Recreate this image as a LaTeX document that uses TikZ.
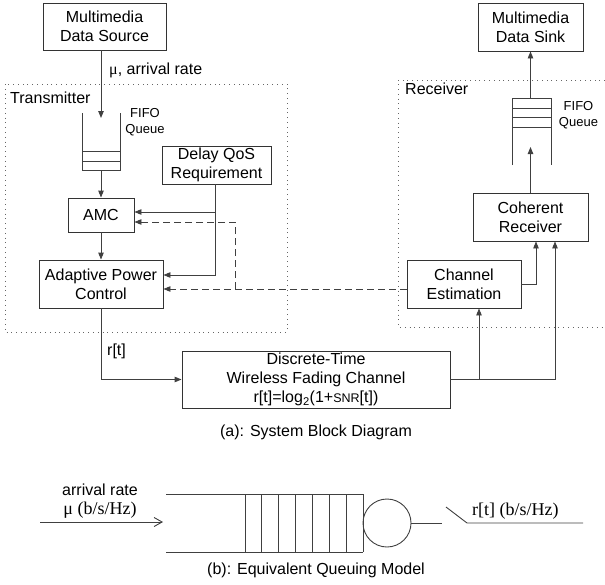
\documentclass[tikz,border=0pt]{standalone}
\usepackage{fontspec}
\setmainfont{Liberation Sans}
\newfontfamily\seriffont{Liberation Serif}
\usetikzlibrary{arrows.meta}
\begin{document}
\begin{tikzpicture}[x=1pt,y=-1pt,
  ln/.style={draw=black!75, line width=0.9pt},
  arr/.style={ln, -{Triangle[length=7pt,width=5.5pt]}},
  box/.style={draw=black!80, line width=0.9pt, inner sep=0pt, align=center, font=\fontsize{16}{19}\selectfont},
  lbl/.style={inner sep=0pt, font=\fontsize{16}{19}\selectfont},
  serlbl/.style={inner sep=0pt, font=\seriffont\fontsize{18}{20}\selectfont},
  small/.style={inner sep=0pt, align=center, font=\fontsize{13}{15.5}\selectfont},
  dots/.style={draw=black!60, line width=0.6pt, dash pattern=on 0.8pt off 4pt},
  dsh/.style={arr, dash pattern=on 7pt off 4pt}]
\useasboundingbox (0,0) rectangle (605,584);

% dotted regions
\draw[dots] (5,84) rectangle (287,332);
\draw[dots] (605,80) -- (398,80) -- (398,327) -- (605,327);
\node[lbl, anchor=west] (tx) at (10,98) {Transmitter};
\node[lbl, anchor=west] (rx) at (405,89) {Receiver};

% blocks
\node[box, minimum width=123pt, minimum height=47pt] (src) at (104.5,26.5) {Multimedia\\Data Source};
\node[box, minimum width=105pt, minimum height=48pt] (sink) at (530.5,27) {Multimedia\\Data Sink};
\node[box, minimum width=109pt, minimum height=38pt] (qos) at (216.5,165) {Delay QoS\\Requirement};
\node[box, minimum width=66pt, minimum height=34pt] (amc) at (101,215) {AMC};
\node[box, minimum width=124pt, minimum height=48pt] (apc) at (101,284) {Adaptive Power\\Control};
\node[box, minimum width=268pt, minimum height=57pt] (chan) at (316,379.5) {Discrete-Time\\Wireless Fading Channel\\r[t]=log\textsubscript{2}(1+{\fontsize{12.5}{14}\selectfont SNR}[t])};
\node[box, minimum width=114pt, minimum height=48pt] (est) at (464,284) {Channel\\Estimation};
\node[box, minimum width=115pt, minimum height=48pt] (coh) at (530.5,217) {Coherent\\Receiver};

% transmitter queue
\coordinate (q1a) at (101,118);
\coordinate (q1b) at (101,170);
\draw[ln] (82,113) -- (82,170) -- (120,170) -- (120,113);
\draw[ln] (82,151) -- (120,151) (82,161) -- (120,161);
\node[small] (fifo1) at (145,122) {FIFO\\Queue};
\node[lbl, anchor=west] (mu) at (109,70) {{\seriffont μ}, arrival rate};

\draw[arr] (src.south -| q1a) -- (q1a);
\draw[arr] (q1b) -- (amc.north -| q1b);
\draw[arr] (amc.south) -- (apc.north);

% QoS feed
\coordinate (qd) at (215,275);
\coordinate (qb) at (215,212);
\draw[arr] (qos.south -| qd) -- (qd) -- (apc.east |- qd);
\draw[arr] (qb) -- (amc.east |- qb);

% CSI feedback (dashed)
\coordinate (d1) at (235,289);
\coordinate (d2) at (235,222);
\draw[dsh] (est.west |- d1) -- (apc.east |- d1);
\draw[dsh] (d1) -- (d2) -- (amc.east |- d2);

% to channel
\coordinate (r1) at (101,379.5);
\draw[arr] (apc.south) -- (r1) -- (chan.west);
\node[lbl, anchor=west] (rt) at (107,351) {r[t]};

% channel to receiver
\coordinate (c1) at (479,379.5);
\coordinate (c2) at (555,379.5);
\draw[arr] (chan.east) -- (c2) -- (coh.south -| c2);
\draw[arr] (c1) -- (est.south -| c1);
\coordinate (e1) at (536,284);
\draw[arr] (est.east |- e1) -- (e1) -- (coh.south -| e1);

% receiver queue
\coordinate (q2a) at (530.5,147);
\coordinate (q2t) at (530.5,98);
\draw[arr] (coh.north) -- (q2a);
\draw[ln] (512,165) -- (512,98) -- (551,98) -- (551,165);
\draw[ln] (512,108) -- (551,108) (512,117) -- (551,117) (512,127) -- (551,127);
\draw[arr] (q2t) -- (sink.south);
\node[small] (fifo2) at (578.5,115) {FIFO\\Queue};

\node[lbl] (capa) at (316,432) {(a): System Block Diagram};

% (b) equivalent queuing model
\coordinate (ain) at (40,522);
\coordinate (aout) at (163,522);
\draw[ln, -{Straight Barb[length=8pt,width=9pt]}] (ain) -- (aout);
\node[lbl] (arl) at (100,490) {arrival rate};
\node[serlbl] (mub) at (100,510.5) {μ (b/s/Hz)};
\draw[ln] (166,494) -- (363,494) (166,552) -- (363,552);
\foreach \x in {245,261.7,278.3,295,312,329,346,363} \draw[ln] (\x,494) -- (\x,552);
\node[ln, circle, minimum size=48pt, inner sep=0pt] (srv) at (387,523) {};
\coordinate (s0) at (442,523);
\coordinate (s1) at (446,507);
\coordinate (s2) at (467,523);
\coordinate (s3) at (583,523);
\draw[ln] (srv.east) -- (s0);
\draw[ln] (s1) -- (s2) -- (s3);
\node[serlbl, anchor=west] (rtb) at (472,511) {r[t] (b/s/Hz)};

\node[lbl] (capb) at (316,570) {(b): Equivalent Queuing Model};
\end{tikzpicture}
\end{document}
